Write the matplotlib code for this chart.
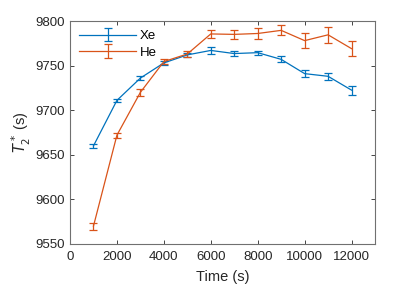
import matplotlib.pyplot as plt

plt.rcParams["font.family"] = ["Liberation Sans", "DejaVu Sans"]

time = [1000, 2000, 3000, 4000, 5000, 6000, 7000, 8000, 9000, 10000, 11000, 12000]
xe_t2 = [9660, 9711, 9736, 9753, 9762, 9767, 9763.5, 9764.5, 9757, 9741, 9738, 9722.5]
xe_err = [1.9, 1.9, 2.2, 2.0, 2.6, 3.7, 3.2, 2.4, 3.4, 3.6, 4.1, 4.9]
he_t2 = [9570, 9672, 9720, 9754.5, 9763, 9785.5, 9785, 9786, 9789.5, 9778, 9784.5, 9769]
he_err = [4.1, 2.8, 3.6, 2.8, 3.7, 4.9, 5.2, 6.0, 5.6, 8.6, 9.2, 8.2]

fig = plt.figure(figsize=(4.15, 2.87), dpi=100)
ax = fig.add_axes([70 / 415, 1 - 244 / 287, 305 / 415, 223 / 287])

ax.errorbar(time, xe_t2, yerr=xe_err, color="#0072BD", lw=0.9, elinewidth=0.9,
            capsize=3, capthick=0.9, label="Xe")
ax.errorbar(time, he_t2, yerr=he_err, color="#D95319", lw=0.9, elinewidth=0.9,
            capsize=3, capthick=0.9, label="He")

ax.set_xlim(0, 13000)
ax.set_ylim(9550, 9800)
ax.set_xticks([0, 2000, 4000, 6000, 8000, 10000, 12000])
ax.set_yticks([9550, 9600, 9650, 9700, 9750, 9800])
ax.tick_params(direction="in", top=True, right=True, length=3, width=0.6,
               labelsize=9.5, colors="#262626")
ax.tick_params(axis="x", pad=5)
for spine in ax.spines.values():
    spine.set_color("#707070")
    spine.set_linewidth(0.8)

ax.set_xlabel("Time (s)", fontsize=10.5, color="#262626", labelpad=5)
ax.set_ylabel(r"$T_2^*$ (s)", fontsize=10.5, color="#262626", labelpad=2)
ax.legend(loc="upper left", frameon=False, fontsize=9.5, handlelength=4.3,
          handletextpad=0.3, borderaxespad=0.3, labelspacing=0.3)

fig.savefig("out.png", dpi=100)
